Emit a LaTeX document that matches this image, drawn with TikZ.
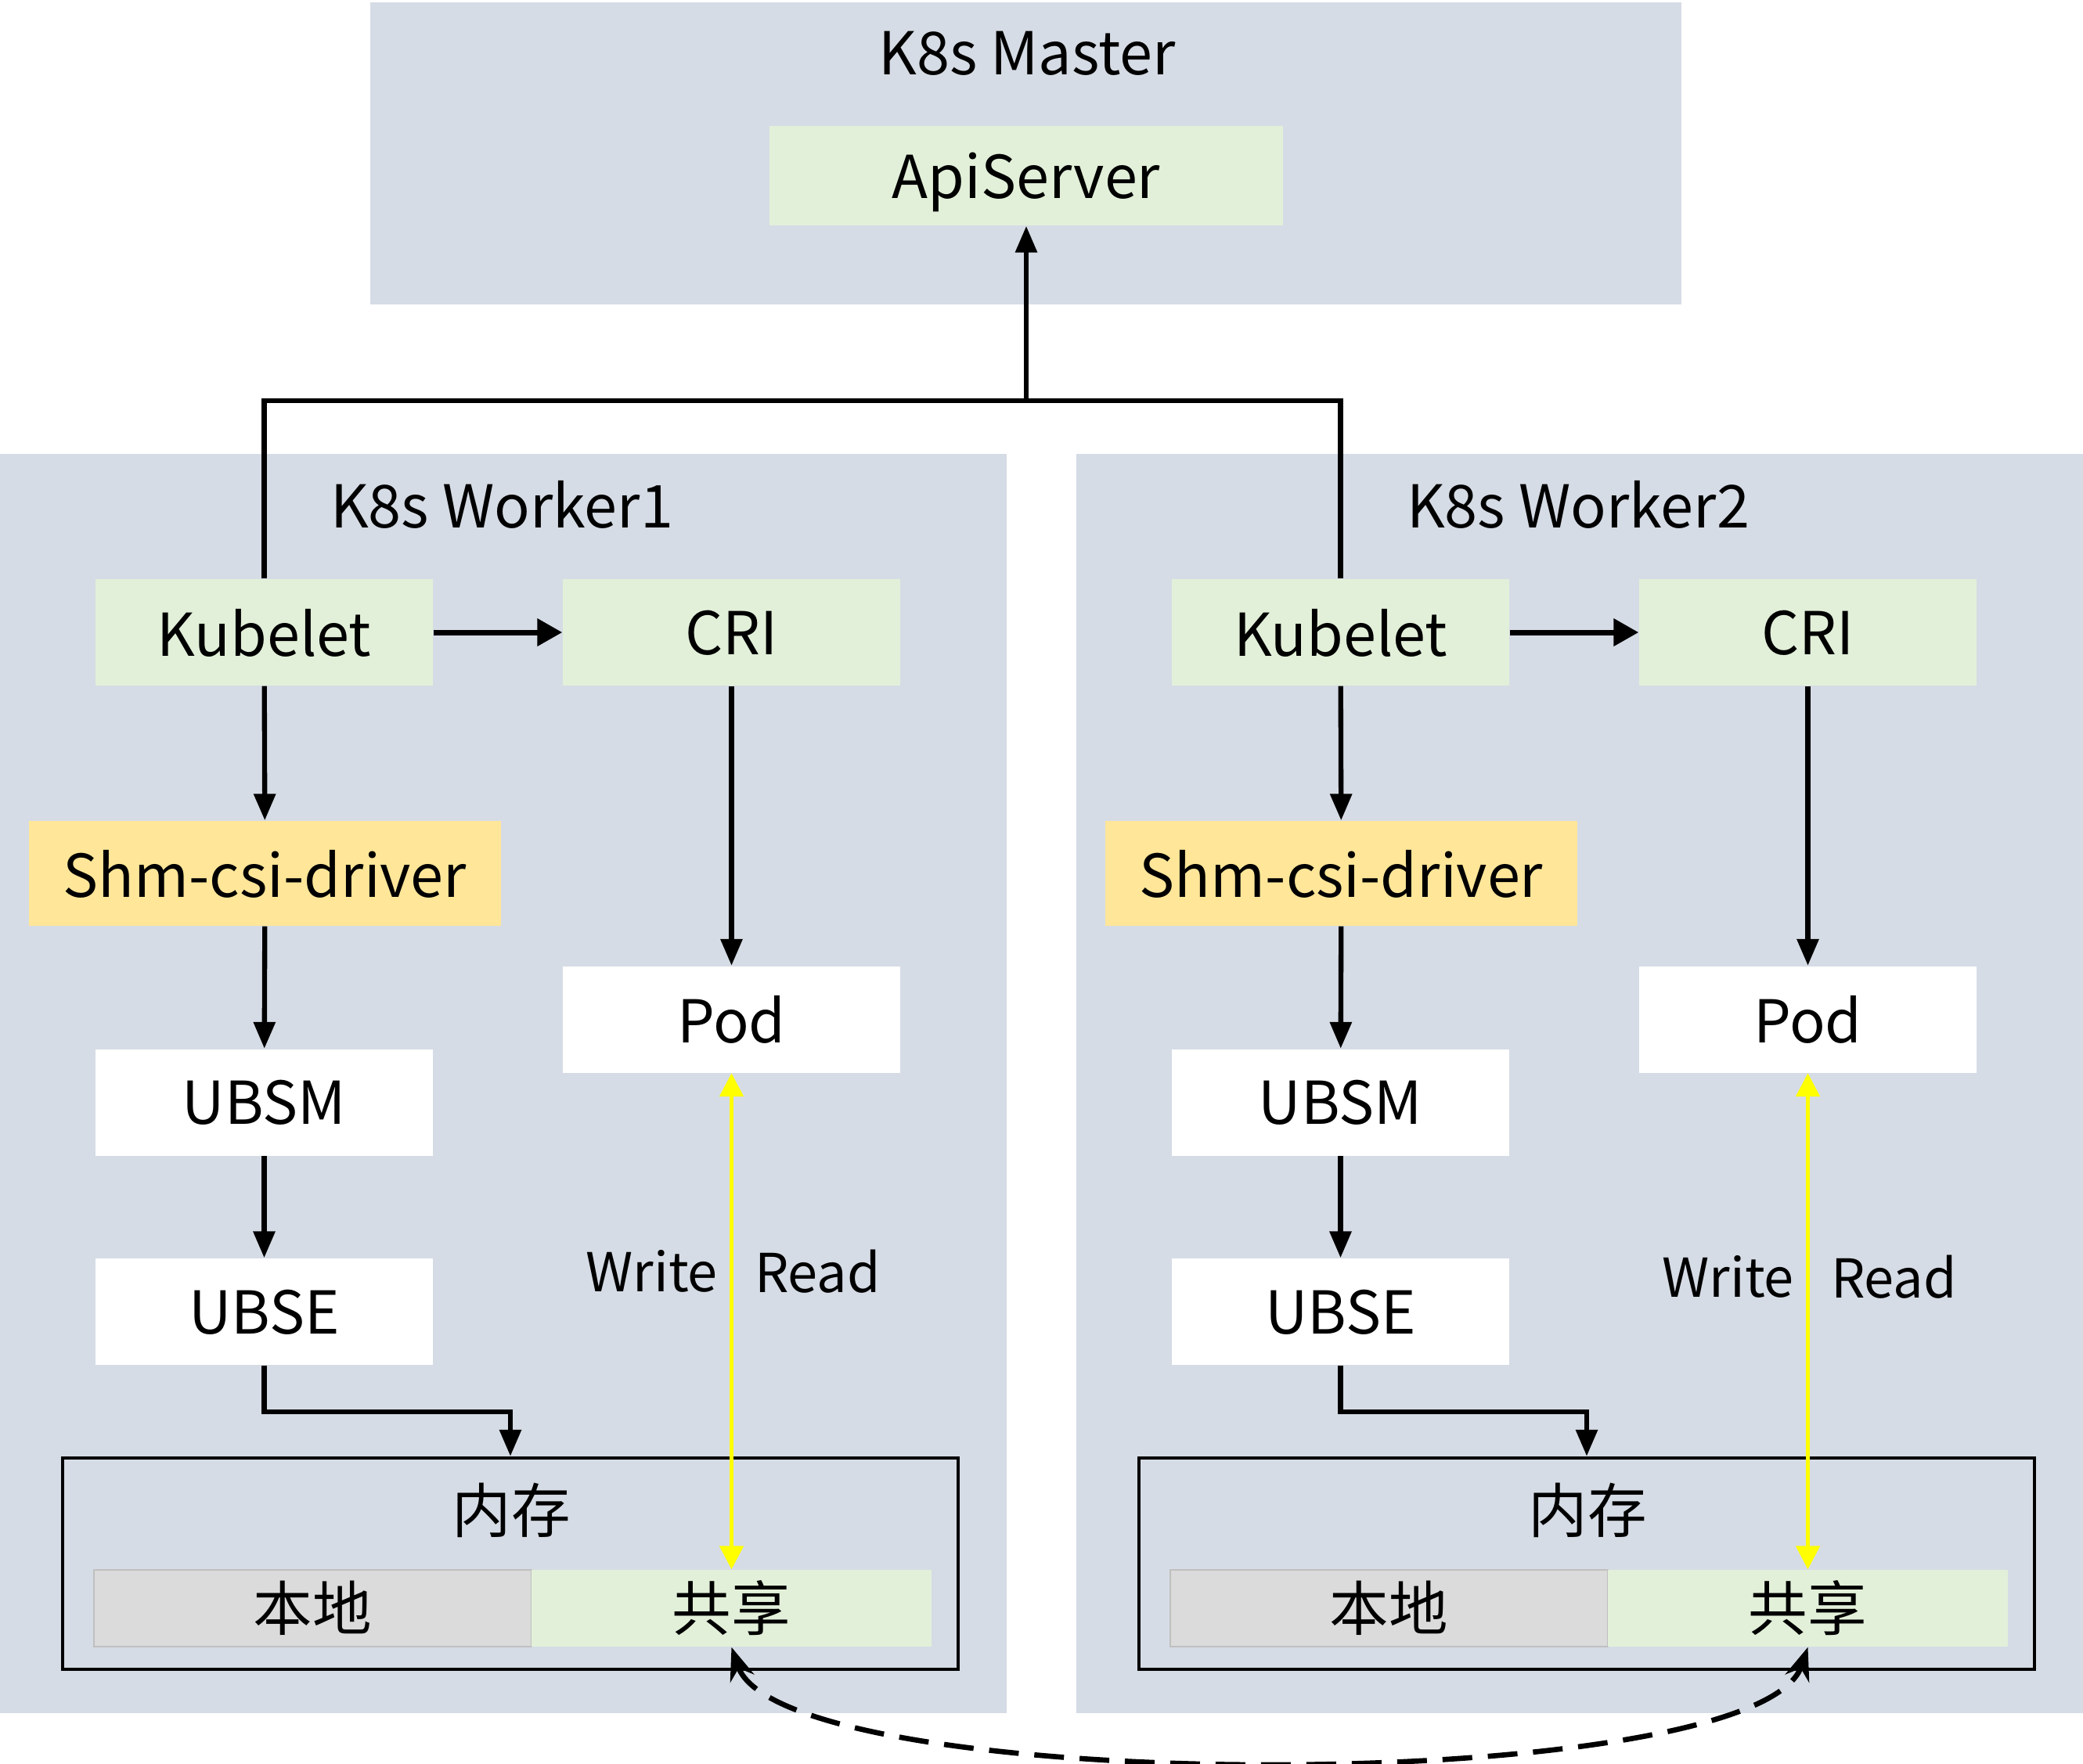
\documentclass[tikz,border=0pt]{standalone}
\usepackage{fontspec}
\setmainfont{Noto Sans CJK SC}
\usepackage{tikz}
\usetikzlibrary{arrows.meta,positioning,calc}
\definecolor{frameblue}{HTML}{D6DCE5}
\definecolor{softgreen}{HTML}{E2F0D9}
\definecolor{softgold}{HTML}{FFE699}
\definecolor{localgrey}{HTML}{DBDBDB}
\definecolor{rwyellow}{HTML}{FFFF00}

\begin{document}
\begin{tikzpicture}[
      font=\fontsize{21.5}{26}\selectfont,
      frame/.style={rectangle, fill=frameblue, inner sep=0pt},
      comp/.style={rectangle, fill=softgreen, inner sep=0pt, text depth=0pt,
                   minimum width=4.31cm, minimum height=1.36cm},
      driver/.style={comp, fill=softgold, minimum width=6.03cm, minimum height=1.34cm},
      plain/.style={comp, fill=white},
      memframe/.style={rectangle, draw=black, line width=1.3pt, inner sep=0pt,
                       minimum width=11.44cm, minimum height=2.70cm},
      localpart/.style={rectangle, fill=localgrey, draw=black!25, inner sep=0pt,
                        minimum width=5.59cm, minimum height=0.98cm},
      sharepart/.style={rectangle, fill=softgreen, inner sep=0pt,
                        minimum width=5.11cm, minimum height=0.98cm},
      rwlabel/.style={font=\fontsize{19.5}{24}\selectfont, inner sep=0pt},
      arrow/.style={-{Triangle[length=0.34cm, width=0.27cm]}, line width=1.8pt},
      wide arrow/.style={-{Triangle[length=0.32cm, width=0.34cm]}, line width=2pt},
      link/.style={line width=1.9pt},
      rwarrow/.style={{Triangle[length=0.3cm, width=0.3cm]}-{Triangle[length=0.3cm, width=0.3cm]},
                      line width=1.5pt, color=rwyellow},
      dashlink/.style={{Stealth[length=0.42cm, width=0.32cm]}-{Stealth[length=0.42cm, width=0.32cm]},
                       line width=1.9pt, dash pattern=on 0.38cm off 0.2cm}
    ]
      \useasboundingbox (0,0) rectangle (26.61,-22.53);
      %% frames
      \node[frame, minimum width=16.75cm, minimum height=3.86cm] (master) at (13.105,-1.96) {};
      \node[frame, minimum width=12.86cm, minimum height=16.09cm] (worker1) at (6.43,-13.845) {};
      \node[frame, minimum width=12.86cm, minimum height=16.09cm] (worker2) at (20.18,-13.845) {};
      \node (mastertitle) at (13.12,-0.68) {K8s Master};
      \node (worker1title) at (6.41,-6.45) {K8s Worker1};
      \node (worker2title) at (20.16,-6.45) {K8s Worker2};
      \node[comp, minimum width=6.56cm, minimum height=1.27cm] (apiserver) at (13.11,-2.245) {ApiServer};

      %% worker 1
      \node[comp] (kubelet1) at (3.375,-8.08) {Kubelet};
      \node[comp] (cri1) at (9.345,-8.08) {CRI};
      \node[driver] (shm1) at (3.385,-11.16) {Shm-csi-driver};
      \node[plain] (pod1) at (9.345,-13.025) {Pod};
      \node[plain] (ubsm1) at (3.375,-14.085) {UBSM};
      \node[plain] (ubse1) at (3.375,-16.76) {UBSE};
      \node[memframe] (mem1) at (6.52,-19.98) {};
      \node (memtitle1) at (6.53,-19.30) {内存};
      \node[localpart] (local1) at (3.995,-20.55) {本地};
      \node[sharepart] (share1) at (9.345,-20.55) {共享};

      %% worker 2
      \node[comp] (kubelet2) at (17.125,-8.08) {Kubelet};
      \node[comp] (cri2) at (23.095,-8.08) {CRI};
      \node[driver] (shm2) at (17.135,-11.16) {Shm-csi-driver};
      \node[plain] (pod2) at (23.095,-13.025) {Pod};
      \node[plain] (ubsm2) at (17.125,-14.085) {UBSM};
      \node[plain] (ubse2) at (17.125,-16.76) {UBSE};
      \node[memframe] (mem2) at (20.27,-19.98) {};
      \node (memtitle2) at (20.28,-19.30) {内存};
      \node[localpart] (local2) at (17.745,-20.55) {本地};
      \node[sharepart] (share2) at (23.095,-20.55) {共享};

      %% kubelets to apiserver
      \coordinate (hub) at (apiserver.south |- 0,-5.12);
      \draw[link] (kubelet1.north) |- (hub) -| (kubelet2.north);
      \draw[arrow] (hub) -- (apiserver.south);

      %% flows inside the workers
      \draw[wide arrow] (kubelet1) -- (cri1);
      \draw[arrow] (kubelet1) -- (shm1);
      \draw[arrow] (cri1) -- (pod1);
      \draw[arrow] (shm1) -- (ubsm1);
      \draw[arrow] (ubsm1) -- (ubse1);
      \draw[arrow] (ubse1.south) -- ++(0,-0.59) -| (mem1.north);
      \draw[rwarrow] (pod1) -- (share1)
          node[rwlabel, pos=0.4, left=0.15cm, text=black] {Write}
          node[rwlabel, pos=0.4, right=0.27cm, text=black] {Read};

      \draw[wide arrow] (kubelet2) -- (cri2);
      \draw[arrow] (kubelet2) -- (shm2);
      \draw[arrow] (cri2) -- (pod2);
      \draw[arrow] (shm2) -- (ubsm2);
      \draw[arrow] (ubsm2) -- (ubse2);
      \draw[arrow] (ubse2.south) -- ++(0,-0.59) -| (mem2.north);
      \draw[rwarrow] (pod2) -- (share2)
          node[rwlabel, pos=0.41, left=0.15cm, text=black] {Write}
          node[rwlabel, pos=0.41, right=0.27cm, text=black] {Read};

      %% shared memory between workers
      \draw[dashlink] (share1.south) .. controls (10.0,-22.97) and (22.44,-22.97) .. (share2.south);
    \end{tikzpicture}
\end{document}
